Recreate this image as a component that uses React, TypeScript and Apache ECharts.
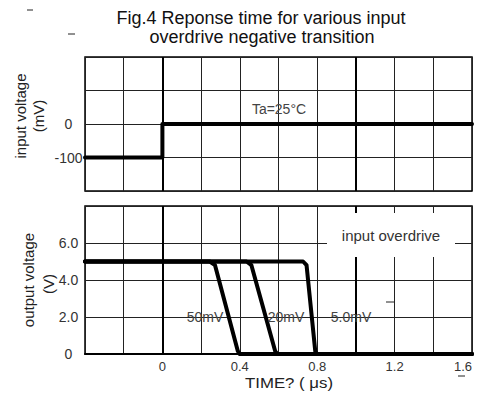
import React, { useEffect, useRef } from "react";
import * as echarts from "echarts";

// ---- data ----
const xTickValues = [0, 0.4, 0.8, 1.2, 1.6];
const xTickLabels = ["0", "0.4", "0.8", "1.2", "1.6"];
const yTopTickValues = [0, -100];
const yTopTickLabels = ["0", "-100"];
const yBotTickValues = [0, 2, 4, 6];
const yBotTickLabels = ["0", "2.0", "4.0", "6.0"];

// input step (time µs, mV)
const inputT = [-0.4, 0, 0, 1.6];
const inputMV = [-100, -100, 0, 0];

// output responses (time µs, V)
const t50 = [-0.4, 0.245, 0.272, 0.39, 0.4, 1.6];
const v50 = [5, 5, 4.8, 0.15, 0, 0];
const t20 = [-0.4, 0.435, 0.46, 0.583, 0.594, 1.6];
const v20 = [5, 5, 4.8, 0.15, 0, 0];
const t5 = [-0.4, 0.727, 0.745, 0.79, 0.797, 1.6];
const v5 = [5, 5, 4.8, 0.15, 0, 0];

const thickGridX = [0, 1.0];

const FONT = "'Liberation Sans', Arial, sans-serif";

const pick = (vals: number[], labels: string[]) => (v: number) => {
  const i = vals.findIndex((t) => Math.abs(t - v) < 1e-6);
  return i >= 0 ? labels[i] : "";
};
const zip = (a: number[], b: number[]) => a.map((x, i) => [x, b[i]]);

function txt(text: string, x: number, y: number, size: number, color: string, rotation = 0, scaleX = 1) {
  return {
    type: "text",
    x,
    y,
    rotation,
    scaleX,
    z: 101,
    style: {
      text,
      fill: color,
      font: `${size}px ${FONT}`,
      textAlign: "center",
      textVerticalAlign: "middle",
      align: "center",
      verticalAlign: "middle",
    },
  };
}
function dash(x1: number, y1: number, x2: number, y2: number) {
  return {
    type: "line",
    z: 101,
    shape: { x1, y1, x2, y2 },
    style: { stroke: "#222", lineWidth: 1 },
  };
}

export default function App() {
  const ref = useRef<HTMLDivElement>(null);
  useEffect(() => {
    if (!ref.current) return;
    const chart = echarts.init(ref.current, null, { renderer: "svg" });
    const gridLine = { show: true, lineStyle: { color: "#222", width: 1 } };
    const thickMark = {
      symbol: "none",
      silent: true,
      label: { show: false },
      lineStyle: { color: "#000", width: 2, type: "solid" },
      data: thickGridX.map((x) => ({ xAxis: x })),
    };
    const lineBase = {
      type: "line",
      showSymbol: false,
      symbol: "none",
      lineStyle: { color: "#000", width: 4, join: "round", cap: "round" },
      z: 5,
    };
    chart.setOption({
      animation: false,
      backgroundColor: "#fff",
      textStyle: { fontFamily: FONT },
      grid: [
        { left: 85, top: 57, width: 387, height: 134, show: true, borderColor: "#000", borderWidth: 1.5 },
        { left: 85, top: 206, width: 387, height: 148, show: true, borderColor: "#000", borderWidth: 1.5 },
      ],
      xAxis: [
        {
          gridIndex: 0, type: "value", min: -0.4, max: 1.6, interval: 0.2,
          axisLine: { show: false }, axisTick: { show: false }, axisLabel: { show: false },
          splitLine: gridLine,
        },
        {
          gridIndex: 1, type: "value", min: -0.4, max: 1.6, interval: 0.2,
          axisLine: { show: true, lineStyle: { color: "#000", width: 2 } },
          axisTick: { show: false },
          axisLabel: {
            show: true, margin: 6, fontSize: 13, color: "#333", fontFamily: FONT,
            formatter: pick(xTickValues, xTickLabels), alignMaxLabel: "right",
          },
          splitLine: gridLine,
        },
      ],
      yAxis: [
        {
          gridIndex: 0, type: "value", min: -200, max: 200, interval: 100,
          axisLine: { show: false }, axisTick: { show: false },
          axisLabel: {
            show: true, margin: 16.5, align: "center", fontSize: 14, color: "#333", fontFamily: FONT,
            formatter: pick(yTopTickValues, yTopTickLabels),
          },
          splitLine: gridLine,
        },
        {
          gridIndex: 1, type: "value", min: 0, max: 8, interval: 2,
          axisLine: { show: false }, axisTick: { show: false },
          axisLabel: {
            show: true, margin: 16.5, align: "center", fontSize: 14, color: "#333", fontFamily: FONT,
            formatter: pick(yBotTickValues, yBotTickLabels),
          },
          splitLine: gridLine,
        },
      ],
      series: [
        {
          ...lineBase, name: "input", xAxisIndex: 0, yAxisIndex: 0,
          data: zip(inputT, inputMV), markLine: thickMark,
        },
        {
          ...lineBase, name: "50mV", xAxisIndex: 1, yAxisIndex: 1,
          data: zip(t50, v50), markLine: thickMark,
        },
        { ...lineBase, name: "20mV", xAxisIndex: 1, yAxisIndex: 1, data: zip(t20, v20) },
        { ...lineBase, name: "5.0mV", xAxisIndex: 1, yAxisIndex: 1, data: zip(t5, v5) },
      ],
      graphic: [
        txt("Fig.4 Reponse time for various input", 261, 18, 18, "#111"),
        txt("overdrive negative transition", 262, 37, 18, "#111"),
        dash(27, 10, 33, 10),
        dash(68, 34, 75, 34),
        dash(386, 302, 394, 302),
        dash(458, 376, 465, 376),
        txt("input voltage", 20, 116, 15, "#222", Math.PI / 2),
        txt("(mV)", 38, 116, 15, "#222", Math.PI / 2),
        txt("output voltage", 28, 280, 15, "#222", Math.PI / 2),
        txt("(V)", 48, 284, 15, "#222", Math.PI / 2),
        txt("Ta=25°C", 279, 109, 14, "#444"),
        txt("50mV", 205, 317, 14, "#444"),
        txt("20mV", 286, 317, 14, "#444"),
        txt("5.0mV", 351, 317, 14, "#444"),
        {
          type: "rect", z: 100,
          shape: { x: 327, y: 213, width: 128, height: 44 },
          style: { fill: "#fff" },
        },
        txt("input overdrive", 391, 235, 15, "#333"),
        txt("TIME? ( μs)", 289, 383, 14, "#222", 0, 1.2),
      ],
    });
    return () => chart.dispose();
  }, []);
  return (
    <div
      ref={ref}
      style={{ position: "fixed", left: 0, top: 0, width: 477, height: 403, background: "#fff" }}
    />
  );
}
